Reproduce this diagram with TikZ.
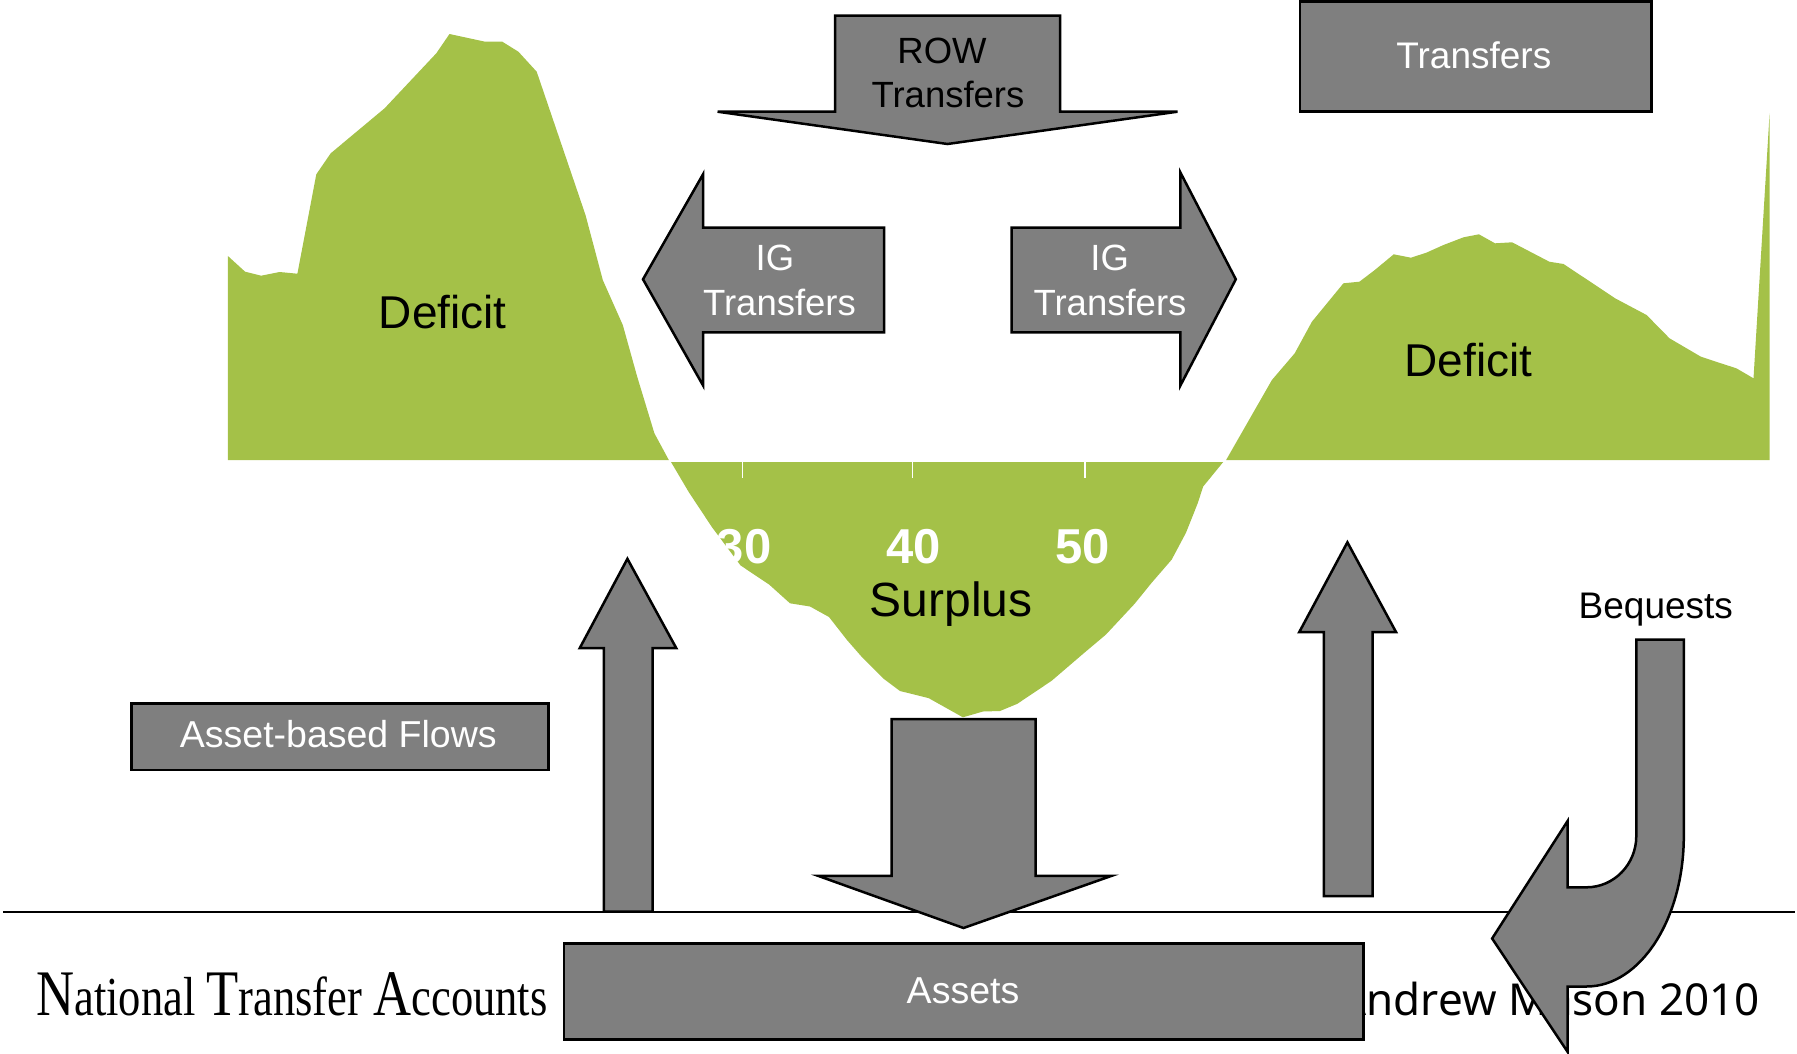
\documentclass[tikz,border=0pt]{standalone}
\usepackage{fontspec}
\setmainfont{Liberation Sans}
\newfontfamily\ntaserif{Liberation Serif}
\newfontfamily\notosans{Noto Sans}
\definecolor{ntagreen}{RGB}{164,193,72}
\definecolor{ntagray}{RGB}{127,127,127}
\begin{document}
\begin{tikzpicture}[x=1pt,y=-1pt,
  shapebox/.style={fill=ntagray,draw=black,line width=2.5pt,line join=miter},
  area/.style={fill=ntagreen},
  lbl/.style={inner sep=0pt,anchor=base},
  tick/.style={draw=white,line width=1.6pt},
  fs/.style={font=\fontsize{#1}{#1}\selectfont}
]
\useasboundingbox (0,0) rectangle (1797,1053);

% ---------- green areas ----------
\fill[area] (227.9,460) -- (227.9,256.0) -- (245.1,271.7) -- (261.2,275.7) -- (279.6,272.0) -- (297.4,273.7) -- (316.3,174.3) -- (330.7,153.3) -- (384.6,108.3) -- (436.3,53.3) -- (449.5,34.0) -- (485.1,41.7) -- (502.3,41.7) -- (518.4,51.7) -- (536.7,71.7) -- (585.5,215.0) -- (602.8,280.0) -- (622.8,325.0) -- (637.2,376.7) -- (654.4,433.3) -- (668.8,460) -- cycle;

\fill[area] (1226.1,460) -- (1271.9,380) -- (1294.7,353.3) -- (1311.9,321.7) -- (1343.4,283.3) -- (1359.4,281.7) -- (1374.8,270) -- (1393.7,254.3) -- (1410.9,257.7) -- (1426.3,252.7) -- (1443.5,245) -- (1463.5,237.3) -- (1478.9,234.3) -- (1495.0,243.3) -- (1512.1,242.3) -- (1549.3,261.7) -- (1563.6,264) -- (1615.1,298.3) -- (1646.6,315) -- (1669.5,338.3) -- (1700.9,356.7) -- (1720.9,363.3) -- (1736.4,368.3) -- (1753.5,378.3) -- (1769.6,113.3) -- (1769.6,460) -- cycle;

\fill[area] (671,462) -- (688.9,492.3) -- (711.8,526.9) -- (740.5,565.4) -- (769.2,584.6) -- (790,603.3) -- (810,606.5) -- (829,617) -- (847,640) -- (861,656) -- (884,679) -- (900,691) -- (928.6,698.1) -- (962.9,717.3) -- (983,711.5) -- (1000,711) -- (1017.3,703.8) -- (1051.6,680.8) -- (1083.1,653.8) -- (1105.9,634.6) -- (1134.6,603.8) -- (1151.7,582.7) -- (1171.7,559.6) -- (1186,532.7) -- (1197.5,503.8) -- (1203.2,486.5) -- (1223.2,462) -- cycle;

% axis ticks
\coordinate (t30a) at (742.4,462); \coordinate (t30b) at (742.4,478);
\coordinate (t40a) at (912.6,462); \coordinate (t40b) at (912.6,478);
\coordinate (t50a) at (1084.8,462); \coordinate (t50b) at (1084.8,478);
\draw[tick] (t30a) -- (t30b);
\draw[tick] (t40a) -- (t40b);
\draw[tick] (t50a) -- (t50b);

% labels on green
\node[lbl,fs=46] (defL) at (442.8,328.3) {Deficit};
\node[lbl,fs=46] (defR) at (1468.6,376.7) {Deficit};
\node[lbl,text=white,font=\bfseries\fontsize{49}{49}\selectfont] (n30) at (744,563.3) {30};
\node[lbl,text=white,font=\bfseries\fontsize{49}{49}\selectfont] (n40) at (913.3,563.3) {40};
\node[lbl,text=white,font=\bfseries\fontsize{49}{49}\selectfont] (n50) at (1082.5,563.3) {50};
\node[lbl,fs=48] (surp) at (951.3,616) {Surplus};

% ---------- bottom texts and line ----------
\coordinate (lineL) at (3,911.5);
\coordinate (lineR) at (1795,911.5);
\draw[line width=2pt] (lineL) -- (lineR);

\node[inner sep=0pt,anchor=base west] (nta) at (36,1015)
  {\scalebox{0.81}[1]{\ntaserif\fontsize{65}{65}\selectfont N\fontsize{55}{55}\selectfont ational
   \fontsize{65}{65}\selectfont T\fontsize{55}{55}\selectfont ransfer
   \fontsize{65}{65}\selectfont A\fontsize{55}{55}\selectfont ccounts}};
\node[inner sep=0pt,anchor=base east,font=\notosans\fontsize{44}{44}\selectfont] (author) at (1760,1015) {Andrew Mason 2010};

% ---------- gray shapes ----------
% ROW transfers arrow (down)
\draw[shapebox] (835.2,15.7) -- (1060.2,15.7) -- (1060.2,111.7) -- (1177.5,111.7) -- (947.5,144) -- (717.6,111.7) -- (835.2,111.7) -- cycle;
\node[lbl,fs=36.5] (row1) at (942,63.3) {ROW};
\node[lbl,fs=36.5] (row2) at (948,107.7) {Transfers};

% Transfers box
\draw[shapebox] (1300,1.5) rectangle (1651.5,111.5);
\node[lbl,fs=37,text=white] (trbox) at (1473.8,68.3) {Transfers};

% IG transfers left arrow
\draw[shapebox] (884,227.7) -- (703.2,227.7) -- (703.2,174) -- (643,279.3) -- (703.2,385.7) -- (703.2,332.3) -- (884,332.3) -- cycle;
\node[lbl,fs=36.5,text=white] (igL1) at (775,270) {IG};
\node[lbl,fs=36.5,text=white] (igL2) at (779.5,315.7) {Transfers};

% IG transfers right arrow
\draw[shapebox] (1011.6,227.7) -- (1180.3,227.7) -- (1180.3,172.3) -- (1235.8,279.3) -- (1180.3,385.7) -- (1180.3,332.3) -- (1011.6,332.3) -- cycle;
\node[lbl,fs=36.5,text=white] (igR1) at (1109.7,270) {IG};
\node[lbl,fs=36.5,text=white] (igR2) at (1110,315.7) {Transfers};

% Asset-based flows box
\draw[shapebox] (131.7,703.3) rectangle (548.3,770);
\node[lbl,fs=37.5,text=white] (abf) at (338.3,747.7) {Asset-based Flows};

% left up arrow
\draw[shapebox] (603.9,911.5) -- (603.9,648) -- (579.8,648) -- (627.4,558.8) -- (676.2,648) -- (652.7,648) -- (652.7,911.5) -- cycle;

% right up arrow
\draw[shapebox] (1323.9,896.2) -- (1323.9,632) -- (1299.3,632) -- (1347.4,542.3) -- (1396,632) -- (1372.5,632) -- (1372.5,896.2) -- cycle;

% big down arrow
\draw[shapebox] (891.5,719.2) -- (1035.6,719.2) -- (1035.6,875.8) -- (1111.7,875.8) -- (963.5,928) -- (818,875.8) -- (891.5,875.8) -- cycle;

% Assets box
\draw[shapebox] (564,943.5) rectangle (1363.4,1039.6);
\node[lbl,fs=37.5,text=white] (assets) at (963,1003.8) {Assets};

% Bequests curved arrow
\draw[shapebox] (1636.3,639.6) -- (1683.8,639.6) -- (1683.8,836)
  .. controls (1683.8,919.1) and (1640.2,986.5) .. (1586.5,986.5)
  -- (1567.6,986.5) -- (1567.6,1051.9) -- (1492.1,938.5) -- (1567.6,821) -- (1567.6,887.3) -- (1586.5,887.3)
  .. controls (1614,887.3) and (1636.3,864.3) .. (1636.3,836) -- cycle;
\node[lbl,fs=37] (beq) at (1655.8,618.3) {Bequests};

\end{tikzpicture}
\end{document}
